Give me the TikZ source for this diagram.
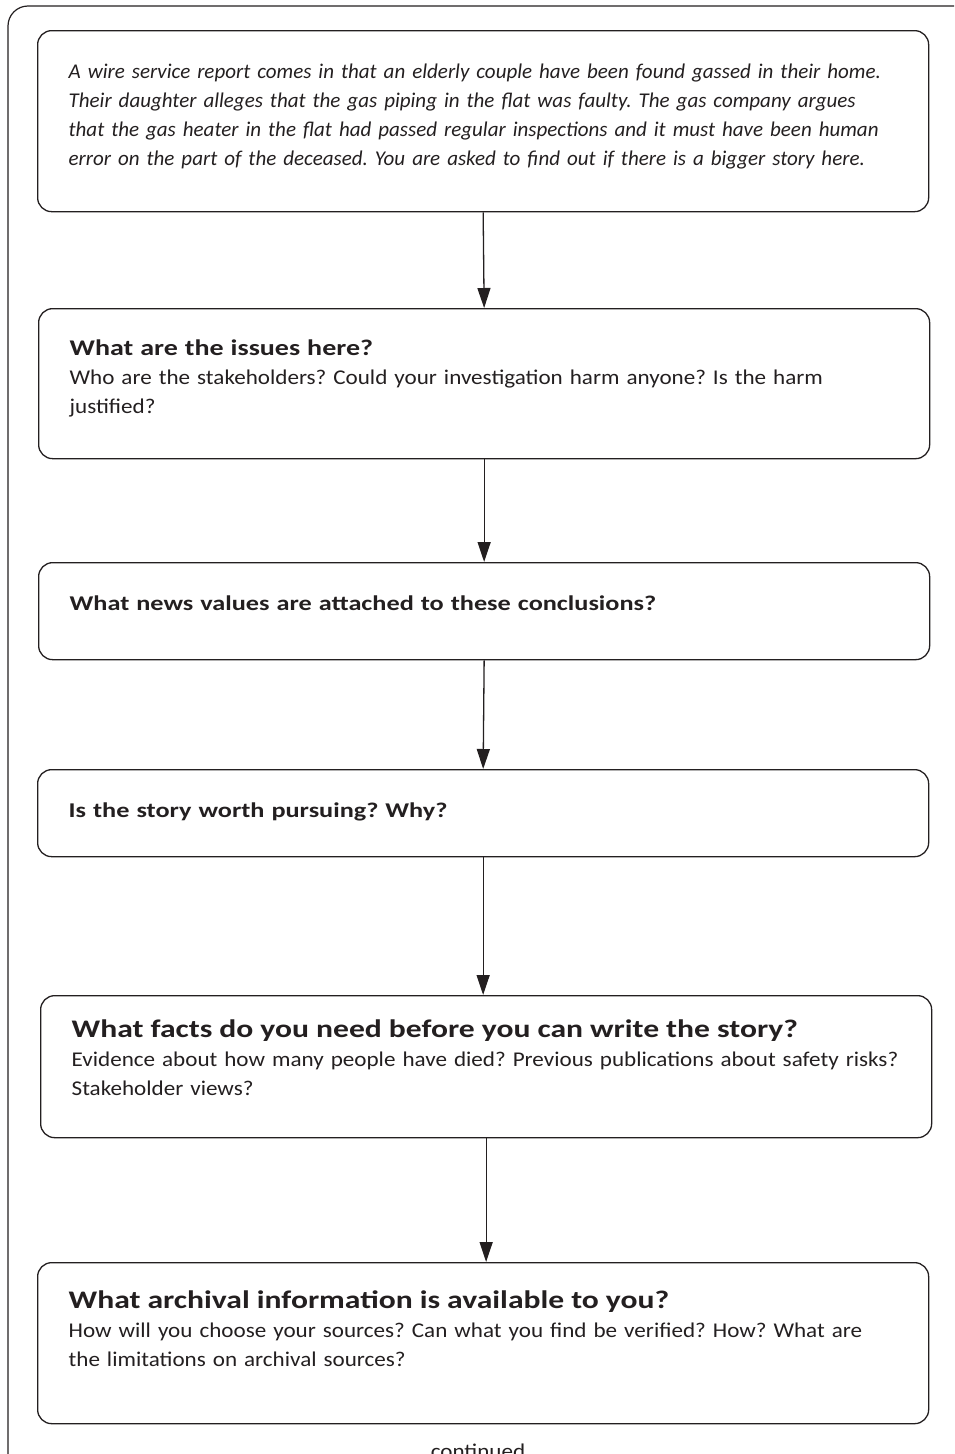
\documentclass[tikz,border=0pt]{standalone}
\usepackage{fontspec}
\setmainfont{Carlito}[UprightFeatures={FakeStretch=1.1}, BoldFeatures={FakeStretch=1.25}]
\usetikzlibrary{arrows.meta}
\definecolor{inkgrey}{HTML}{231F20}
\newcommand{\boxtitle}[2]{{\fontsize{#1}{29}\selectfont\textbf{#2}}}
\begin{document}
\frenchspacing
\begin{tikzpicture}[x=1pt, y=1pt, line width=1.3pt, draw=inkgrey, text=inkgrey,
    box/.style = {draw, rounded corners=14pt, anchor=north west, minimum width=891pt, text width=829pt, inner xsep=31pt, align=left, font=\fontsize{21}{29}\selectfont},
    link/.style = {-{Triangle[width=13pt, length=20pt]}}]
    \useasboundingbox (0,0) rectangle (954,-1454);
    \clip (0,0) rectangle (954,-1454);
    % Frame
    \draw[line width=1.2pt, rounded corners=20pt] (8,-6) rectangle (990,-1500);
    % Nodes
    \node[box, minimum height=181pt, text depth=100pt] (B1) at (37,-30) {\itshape A wire service report comes in that an elderly couple have been found gassed in their home.\\ Their daughter alleges that the gas piping in the flat was faulty. The gas company argues\\ that the gas heater in the flat had passed regular inspections and it must have been human\\ error on the part of the deceased. You are asked to find out if there is a bigger story here.};
    \node[box, minimum height=150pt, text depth=73pt] (B2) at (38,-308) {\boxtitle{22.4}{What are the issues here?}\\ Who are the stakeholders? Could your investigation harm anyone? Is the harm\\ justified?};
    \node[box, minimum height=97pt, text depth=17pt] (B3) at (38,-562) {\textbf{What news values are attached to these conclusions?}};
    \node[box, minimum height=87pt, text depth=7pt] (B4) at (37,-769) {\textbf{Is the story worth pursuing? Why?}};
    \node[box, minimum height=142pt, text depth=77pt] (B5) at (40,-995) {\boxtitle{25.3}{What facts do you need before you can write the story?}\\ Evidence about how many people have died? Previous publications about safety risks?\\ Stakeholder views?};
    \node[box, minimum height=161pt, text depth=87pt] (B6) at (37,-1262) {\boxtitle{25.3}{What archival information is available to you?}\\ How will you choose your sources? Can what you find be verified? How? What are\\ the limitations on archival sources?};
    \node[anchor=base, font=\fontsize{21}{29}\selectfont] (C) at (478,-1458) {continued};
    % Arrows
    \draw[link] (B1.south) -- (B2.north);
    \draw[link] (B2.south) -- (B3.north);
    \draw[link] (B3.south) -- (B4.north);
    \draw[link] (B4.south) -- (B4.south |- B5.north);
    \draw[link] (B5.south) -- (B5.south |- B6.north);
\end{tikzpicture}
\end{document}
